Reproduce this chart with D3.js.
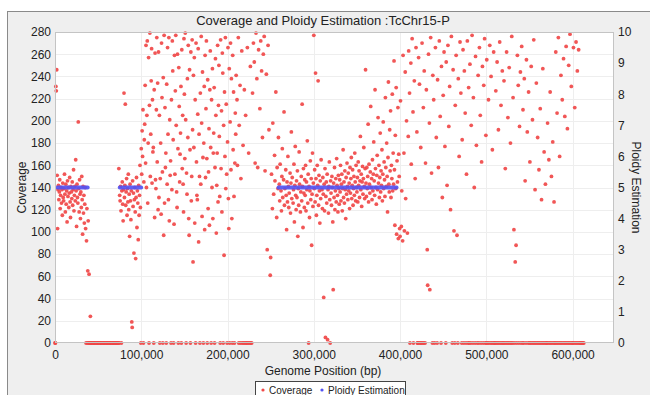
<!DOCTYPE html>
<html>
<head>
<meta charset="utf-8">
<script src="https://cdn.jsdelivr.net/npm/d3@7/dist/d3.min.js"></script>
<style>
  html, body { margin: 0; padding: 0; background: #ffffff; }
  svg { display: block; font-family: "Liberation Sans", Arial, sans-serif; }
</style>
</head>
<body>
<svg id="chart" width="650" height="395"></svg>
<script>
// Read-depth coverage in 500 bp windows along TcChr15-P; _ marks windows with no call.
const _ = null;
const binSize = 500;
const coverage = [
  // 0 - 50 kb
  0,0,231,227,246,151,103,138,142,129,136,147,121,133,140,126,138,115,144,131,
  128,139,152,134,118,143,125,137,109,146,132,140,122,135,149,127,113,141,136,130,
  145,124,138,156,119,133,141,128,165,137,105,143,131,126,199,139,118,147,134,112,
  136,122,150,129,98,141,117,133,108,125,140,103,0,92,121,0,65,110,0,62,
  0,0,24,0,0,0,0,0,0,0,0,0,0,0,0,0,0,0,0,0,
  // 50 - 100 kb
  0,0,0,0,0,0,0,0,0,0,0,0,0,0,0,0,0,0,0,0,
  0,0,0,0,0,0,0,0,0,0,0,0,0,0,0,0,0,0,0,0,
  0,0,0,0,0,0,0,0,157,0,133,128,141,119,0,137,145,125,110,138,
  225,131,142,215,124,136,148,115,139,127,152,120,134,96,143,128,111,137,19,14,
  146,123,135,81,129,140,118,76,131,149,104,137,126,93,142,115,133,160,122,0,
  // 100 - 150 kb
  175,152,191,168,210,0,145,183,197,232,162,268,140,205,272,126,180,257,0,214,
  279,150,188,236,265,144,219,172,176,0,228,113,261,147,139,210,275,163,234,120,
  262,131,205,0,148,180,116,270,221,154,0,239,97,277,126,212,158,171,0,233,
  143,266,188,129,275,110,201,151,164,0,219,138,272,245,183,0,107,259,152,227,
  277,196,136,122,260,175,0,248,213,145,170,189,231,0,264,157,205,143,118,274,
  // 150 - 200 kb
  224,166,279,201,0,153,134,238,185,268,112,97,246,174,0,262,128,150,273,192,
  73,241,176,257,108,219,0,270,163,133,129,206,265,91,188,150,0,225,143,276,
  198,114,244,167,0,180,231,102,259,149,211,272,166,0,237,121,154,193,106,228,
  263,176,0,219,140,247,112,171,189,230,0,158,256,205,99,142,171,268,127,214,
  250,186,132,0,273,157,209,118,261,243,0,196,79,226,168,275,139,215,152,0,
  // 200 - 250 kb
  181,266,130,103,247,0,199,270,156,238,112,0,259,174,226,132,0,162,207,188,
  241,_,219,160,_,275,0,196,_,232,0,148,_,263,0,_,178,0,_,228,
  0,_,205,0,_,0,266,_,0,171,_,0,_,249,0,_,0,_,225,_,
  270,_,253,_,162,_,279,_,238,_,158,_,264,_,_,211,_,272,_,245,
  _,185,_,260,_,276,_,155,_,_,242,_,84,_,268,_,192,_,_,61,
  // 250 - 300 kb
  77,_,152,_,121,198,_,134,_,169,146,_,226,_,113,158,_,139,185,_,
  143,128,161,_,137,119,150,175,131,_,147,208,124,139,_,156,133,102,145,127,
  168,141,122,135,_,153,117,144,190,130,149,_,126,138,161,109,142,177,133,120,
  146,131,155,96,139,124,172,143,_,118,136,150,128,215,141,104,157,135,122,147,
  133,160,119,145,138,182,126,152,0,141,113,137,164,129,148,88,134,171,123,144,
  // 300 - 350 kb
  277,139,156,127,243,148,115,133,160,142,236,124,151,137,108,146,130,165,_,138,
  121,149,134,41,143,119,157,5,132,145,126,152,3,138,117,141,163,129,0,146,
  135,124,150,140,109,48,144,131,158,120,137,148,127,166,142,133,118,151,139,125,
  147,136,160,128,143,152,119,139,174,131,145,126,155,138,112,149,134,162,141,129,
  153,137,144,121,158,135,148,167,130,142,156,124,139,150,133,171,145,128,160,140,
  // 350 - 400 kb
  136,149,127,163,142,155,131,146,186,138,152,123,145,159,134,148,176,141,130,157,
  246,144,132,158,139,150,197,127,161,143,135,154,213,140,148,129,165,137,152,181,
  146,133,228,157,140,125,151,169,138,203,144,160,131,149,189,136,155,142,174,128,
  152,199,139,163,147,132,221,158,141,180,150,118,167,235,143,136,192,155,209,131,
  160,148,224,137,171,143,254,156,106,187,139,230,98,164,145,212,94,170,150,103,
  // 400 - 450 kb
  96,218,_,105,137,_,92,259,_,171,101,_,244,130,_,200,_,99,_,186,
  263,_,225,0,_,252,161,_,274,_,208,0,_,236,_,148,_,266,_,190,
  0,0,_,257,0,233,_,0,176,0,_,270,0,_,212,0,245,_,0,162,
  _,228,_,84,52,_,260,_,198,48,_,275,_,153,_,0,241,_,219,_,
  0,_,266,_,185,_,0,237,_,158,_,272,_,204,_,0,249,_,131,_,
  // 450 - 500 kb
  223,_,262,_,177,_,0,253,_,142,_,268,_,195,_,231,_,120,_,276,
  _,0,_,246,_,101,_,0,214,_,259,_,97,_,0,238,_,168,_,271,
  _,225,_,0,183,_,264,_,0,245,_,207,_,0,152,_,272,_,0,230,
  0,_,251,_,0,196,_,277,_,0,221,_,140,_,0,258,_,178,_,0,
  _,241,_,0,266,_,205,_,0,163,_,249,_,0,232,_,274,_,0,187,
  // 500 - 550 kb
  0,255,_,0,_,219,0,_,268,_,0,240,_,0,174,_,0,262,_,0,
  0,_,227,0,_,253,0,_,192,0,_,271,0,_,214,0,_,245,0,_,
  0,236,_,0,157,_,0,262,_,0,203,_,0,248,_,0,180,_,0,276,
  _,0,221,_,102,0,_,73,_,88,0,_,259,_,232,0,_,195,_,244,
  0,_,267,_,0,210,_,0,238,_,146,_,0,255,_,190,_,0,226,_,
  // 550 - 614 kb
  0,163,_,0,249,_,0,201,_,0,273,_,0,138,_,0,234,_,0,185,
  _,0,156,_,0,211,_,0,129,_,0,247,_,0,172,_,0,143,_,0,
  0,_,198,0,_,165,0,_,226,0,_,150,0,_,181,0,_,127,0,_,
  0,262,_,0,207,_,0,275,_,0,168,_,0,241,_,0,219,_,0,256,
  _,0,204,_,0,267,_,0,193,_,0,250,_,0,278,_,0,231,_,0,
  0,_,266,0,_,212,0,_,271,0,_,245,0,_,264,0,_,0,_,0,
  0,_,0,_,0,_,0,_
];

// Ploidy calls for the well-covered blocks.
const ploidyStart = [3000, 75000, 259000];
const ploidyEnd   = [38000, 100000, 396000];
const ploidyValue = [5, 5, 5];

const xTicks = [0, 100000, 200000, 300000, 400000, 500000, 600000];
const coverageTicks = [0, 20, 40, 60, 80, 100, 120, 140, 160, 180, 200, 220, 240, 260, 280];
const ploidyTicks = [0, 1, 2, 3, 4, 5, 6, 7, 8, 9, 10];

const titleText = "Coverage and Ploidy Estimation :TcChr15-P";
const xLabel = "Genome Position (bp)";
const yLabel = "Coverage";
const y2Label = "Ploidy Estimation";

// ---- layout ----
const W = 650, H = 395;
const margin = { top: 32, right: 36, bottom: 52, left: 55 };
const pw = W - margin.left - margin.right;
const ph = H - margin.top - margin.bottom;

const svg = d3.select("#chart");

// panel background with frame
svg.append("rect").attr("x", 7.5).attr("y", 11.5).attr("width", W).attr("height", H)
  .attr("fill", "#efefef").attr("stroke", "#8a8a8a").attr("stroke-width", 1);

const g = svg.append("g").attr("transform", `translate(${margin.left},${margin.top})`);

const x = d3.scaleLinear().domain([0, 648000]).range([0, pw]);
const y = d3.scaleLinear().domain([0, 280]).range([ph, 0]);
const y2 = d3.scaleLinear().domain([0, 10]).range([ph, 0]);

g.append("rect").attr("width", pw).attr("height", ph).attr("fill", "#ffffff");

// faint grid
g.append("g").selectAll("line").data(coverageTicks.slice(1, -1)).join("line")
  .attr("x1", 0).attr("x2", pw).attr("y1", d => Math.round(y(d)) + 0.5).attr("y2", d => Math.round(y(d)) + 0.5)
  .attr("stroke", "#eeeeee");
g.append("g").selectAll("line").data(xTicks.slice(1)).join("line")
  .attr("y1", 0).attr("y2", ph).attr("x1", d => Math.round(x(d)) + 0.5).attr("x2", d => Math.round(x(d)) + 0.5)
  .attr("stroke", "#eeeeee");

// coverage points
const pts = coverage.map((v, i) => ({ pos: i * binSize, v })).filter(d => d.v !== null);
g.append("g").selectAll("circle").data(pts).join("circle")
  .attr("cx", d => x(d.pos)).attr("cy", d => y(d.v)).attr("r", 1.9)
  .attr("fill", "#f04848").attr("fill-opacity", 0.92);

// ploidy estimation
g.append("g").selectAll("line").data(ploidyValue).join("line")
  .attr("x1", (d, i) => x(ploidyStart[i])).attr("x2", (d, i) => x(ploidyEnd[i]))
  .attr("y1", d => y2(d)).attr("y2", d => y2(d))
  .attr("stroke", "#5252f2").attr("stroke-width", 3.8).attr("stroke-linecap", "round")
  .attr("stroke-opacity", 0.92);

// plot border
g.append("rect").attr("x", 0.5).attr("y", 0.5).attr("width", pw - 1).attr("height", ph - 1)
  .attr("fill", "none").attr("stroke", "#c4c4c4");

// axes
const styleAxis = sel => {
  sel.select(".domain").remove();
  sel.selectAll("text").attr("fill", "#222").style("font-size", "12px")
    .style("font-family", "Liberation Sans, Arial, sans-serif");
};
g.append("g").attr("transform", `translate(0,${ph})`)
  .call(d3.axisBottom(x).tickValues(xTicks).tickFormat(d3.format(",")).tickSize(0).tickPadding(7))
  .call(styleAxis);
g.append("g")
  .call(d3.axisLeft(y).tickValues(coverageTicks).tickSize(0).tickPadding(4))
  .call(styleAxis);
g.append("g").attr("transform", `translate(${pw},0)`)
  .call(d3.axisRight(y2).tickValues(ploidyTicks).tickSize(0).tickPadding(4))
  .call(styleAxis);

// titles
svg.append("text").attr("x", 323).attr("y", 25).attr("text-anchor", "middle")
  .attr("fill", "#222").style("font-size", "13px").text(titleText);
svg.append("text").attr("x", 323).attr("y", 375).attr("text-anchor", "middle")
  .attr("fill", "#222").style("font-size", "12px").text(xLabel);
svg.append("text").attr("transform", `translate(26,${margin.top + ph / 2}) rotate(-90)`)
  .attr("text-anchor", "middle").attr("fill", "#222").style("font-size", "12px").text(yLabel);
svg.append("text").attr("transform", `translate(632,${margin.top + ph / 2}) rotate(90)`)
  .attr("text-anchor", "middle").attr("fill", "#222").style("font-size", "12px").text(y2Label);

// legend
const lg = svg.append("g").attr("transform", "translate(255,381)");
lg.append("rect").attr("x", 0.5).attr("y", 0.5).attr("width", 150).attr("height", 16)
  .attr("fill", "#ffffff").attr("stroke", "#444");
const items = [
  { label: "Coverage", color: "#f04848", dx: 8 },
  { label: "Ploidy Estimation", color: "#5252f2", dx: 67 }
];
items.forEach(it => {
  lg.append("circle").attr("cx", it.dx).attr("cy", 9).attr("r", 1.6).attr("fill", it.color);
  lg.append("text").attr("x", it.dx + 6).attr("y", 12.5).attr("fill", "#222")
    .style("font-size", "10px").text(it.label);
});
</script>
</body>
</html>
